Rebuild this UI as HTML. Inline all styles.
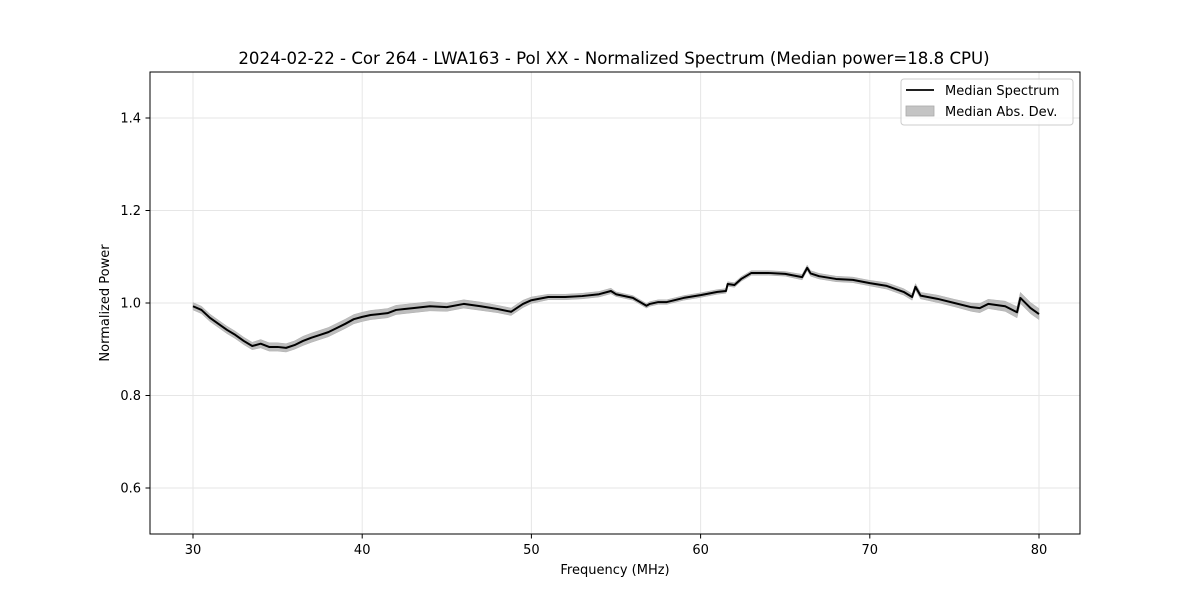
<!DOCTYPE html>
<html><head><meta charset="utf-8"><style>
body{margin:0;background:#fff;}
svg text{font-family:"DejaVu Sans","Liberation Sans",sans-serif;fill:#000;}
</style></head><body>
<svg id="chart" width="1200" height="600" xmlns="http://www.w3.org/2000/svg">
<rect x="0" y="0" width="1200" height="600" fill="#fff"/>
<text x="614" y="64" font-size="16.6" text-anchor="middle">2024-02-22 - Cor 264 - LWA163 - Pol XX - Normalized Spectrum (Median power=18.8 CPU)</text>
<g id="grid"></g>
<g id="band"></g>
<g id="line"></g>
<rect x="150" y="72" width="930" height="462" fill="none" stroke="#000" stroke-width="1"/>
<g id="ticks"></g>
<text x="615" y="574" font-size="13" text-anchor="middle">Frequency (MHz)</text>
<text x="109" y="303" font-size="13" text-anchor="middle" transform="rotate(-90 109 303)">Normalized Power</text>
<g>
<rect x="901" y="79" width="172" height="46" rx="3" fill="#fff" stroke="#ccc" fill-opacity="0.8"/>
<line x1="906" y1="90" x2="934" y2="90" stroke="#000" stroke-width="1.8"/>
<text x="945" y="95" font-size="13">Median Spectrum</text>
<rect x="906" y="106" width="28" height="10" fill="#c4c4c4" stroke="#aaa" stroke-width="0.8"/>
<text x="945" y="116" font-size="13">Median Abs. Dev.</text>
</g>
</svg>
<script>
const freqs=[30,30.5,31,31.5,32,32.5,33,33.5,34,34.5,35,35.5,36,36.5,37,37.5,38,38.5,39,39.5,40,40.5,41,41.5,42,42.5,43,44,45,46,47,48,48.8,49.5,50,51,52,53,54,54.7,55,56,56.8,57,57.5,58,59,60,61,61.5,61.6,62,62.4,63,64,65,66,66.3,66.5,67,68,69,70,71,72,72.5,72.7,73,74,75,76,76.5,77,78,78.7,78.9,79.5,80];
const power=[0.993,0.985,0.968,0.955,0.942,0.931,0.918,0.907,0.912,0.905,0.905,0.903,0.909,0.918,0.925,0.931,0.937,0.946,0.955,0.965,0.970,0.974,0.976,0.978,0.985,0.987,0.989,0.993,0.991,0.998,0.993,0.987,0.981,0.998,1.006,1.013,1.013,1.015,1.019,1.026,1.019,1.011,0.994,0.998,1.002,1.002,1.011,1.017,1.024,1.026,1.041,1.039,1.052,1.065,1.065,1.063,1.056,1.076,1.064,1.058,1.052,1.050,1.043,1.037,1.024,1.013,1.035,1.016,1.009,1.000,0.991,0.989,0.998,0.993,0.980,1.011,0.989,0.976];
const mad=[0.008,0.008,0.008,0.008,0.008,0.008,0.008,0.008,0.009,0.009,0.009,0.009,0.009,0.010,0.010,0.010,0.010,0.010,0.010,0.010,0.010,0.010,0.010,0.010,0.010,0.010,0.010,0.010,0.009,0.009,0.009,0.008,0.008,0.008,0.007,0.006,0.006,0.006,0.006,0.006,0.005,0.005,0.005,0.005,0.005,0.005,0.005,0.005,0.005,0.005,0.005,0.005,0.005,0.005,0.005,0.005,0.006,0.006,0.006,0.006,0.006,0.006,0.006,0.007,0.007,0.007,0.007,0.007,0.008,0.008,0.009,0.010,0.010,0.011,0.012,0.012,0.012,0.012];
const xTicks=[30,40,50,60,70,80];
const yTicks=[0.6,0.8,1.0,1.2,1.4];
const NS="http://www.w3.org/2000/svg";
const X=f=>193+(f-30)*16.92;
const Y=v=>303-(v-1.0)*462.5;
const grid=document.getElementById('grid'),ticks=document.getElementById('ticks');
function mk(tag,attrs,parent){const e=document.createElementNS(NS,tag);for(const k in attrs)e.setAttribute(k,attrs[k]);parent.appendChild(e);return e;}
xTicks.forEach(t=>{
  const g=mk('line',{x1:X(t),x2:X(t),y1:72,y2:534,stroke:'#e6e6e6','stroke-width':1},grid);
  
  
  const tk=mk('line',{x1:X(t),x2:X(t),y1:534,y2:538.5,stroke:'#000'},ticks);
  
  
  const tx=mk('text',{x:X(t),y:554,'font-size':13,'text-anchor':'middle'},ticks);
  tx.textContent=t;
  
  
});
yTicks.forEach(t=>{
  const g=mk('line',{x1:150,x2:1080,y1:Y(t),y2:Y(t),stroke:'#e6e6e6','stroke-width':1},grid);
  
  
  const tk=mk('line',{x1:145.5,x2:150,y1:Y(t),y2:Y(t),stroke:'#000'},ticks);
  
  
  const tx=mk('text',{x:141,y:Y(t)+4.5,'font-size':13,'text-anchor':'end'},ticks);
  tx.textContent=t.toFixed(1);
  
  
});
let up=freqs.map((f,i)=>X(f)+','+Y(power[i]+mad[i]));
let dn=freqs.map((f,i)=>X(f)+','+Y(power[i]-mad[i])).reverse();
const band=mk('polygon',{points:up.concat(dn).join(' '),fill:'#bdbdbd',stroke:'#b0b0b0','stroke-width':0.5},document.getElementById('band'));


const ln=mk('polyline',{points:freqs.map((f,i)=>X(f)+','+Y(power[i])).join(' '),fill:'none',stroke:'#000','stroke-width':2,'stroke-linejoin':'round'},document.getElementById('line'));


</script>
</body></html>
